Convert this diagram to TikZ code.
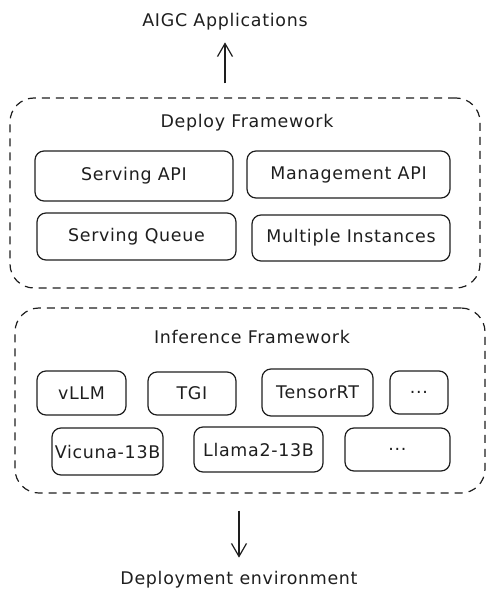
\documentclass[tikz,border=0pt]{standalone}
\usepackage{fontspec}
\setmainfont{DejaVu Sans}[LetterSpace=4]
\usepackage{tikz}
\usetikzlibrary{arrows.meta}

\begin{document}
\begin{tikzpicture}[x=1bp,y=-1bp,>={Straight Barb[length=13bp,width=15bp]},
                    line width=1.2bp,color={rgb,255:red,30;green,30;blue,30},
                    font=\fontsize{17.5}{20}\selectfont]

  \tikzstyle{box}=[rectangle,draw,rounded corners=9bp,inner sep=0pt]
  \tikzstyle{frame}=[rectangle,draw,dashed,dash pattern=on 8bp off 6bp,
                     rounded corners=24bp,inner sep=0pt]

  \useasboundingbox (0,0) rectangle (495,603);

  \node (AP) at (225,22) {AIGC Applications};
  \node (DE) at (239,580) {Deployment environment};

  \node[frame,minimum width=470bp,minimum height=190bp] (DF) at (245,193) {};
  \node (DT) at (247,123) {Deploy Framework};
  \node[box,minimum width=198bp,minimum height=50bp] (SA) at (134,176)   {Serving API};
  \node[box,minimum width=203bp,minimum height=47bp] (MA) at (348.5,174.5) {Management API};
  \node[box,minimum width=199bp,minimum height=47bp] (SQ) at (136.5,236.5) {Serving Queue};
  \node[box,minimum width=198bp,minimum height=46bp] (MI) at (351,238)   {Multiple Instances};

  \node[frame,minimum width=470bp,minimum height=185bp] (IF) at (250,400.5) {};
  \node (IT) at (252,337) {Inference Framework};
  \node[box,minimum width=89bp,minimum height=44bp]  (VL) at (81.5,393)  {vLLM};
  \node[box,minimum width=88bp,minimum height=43bp]  (TG) at (192,393.5) {TGI};
  \node[box,minimum width=111bp,minimum height=47bp] (TR) at (317.5,392.5) {TensorRT};
  \node[box,minimum width=58bp,minimum height=43bp]  (D1) at (419,392.5) {...};
  \node[box,minimum width=111bp,minimum height=47bp] (VC) at (107.5,451.5) {Vicuna-13B};
  \node[box,minimum width=129bp,minimum height=45bp] (LL) at (258.5,449.5) {Llama2-13B};
  \node[box,minimum width=105bp,minimum height=43bp] (D2) at (397.5,449.5) {...};

  \path[->] (DF.north -| AP) edge [shorten <=14bp,shorten >=8bp] (AP)
            (IF.south -| DE) edge [shorten <=17bp,shorten >=10bp] (DE);
\end{tikzpicture}
\end{document}
